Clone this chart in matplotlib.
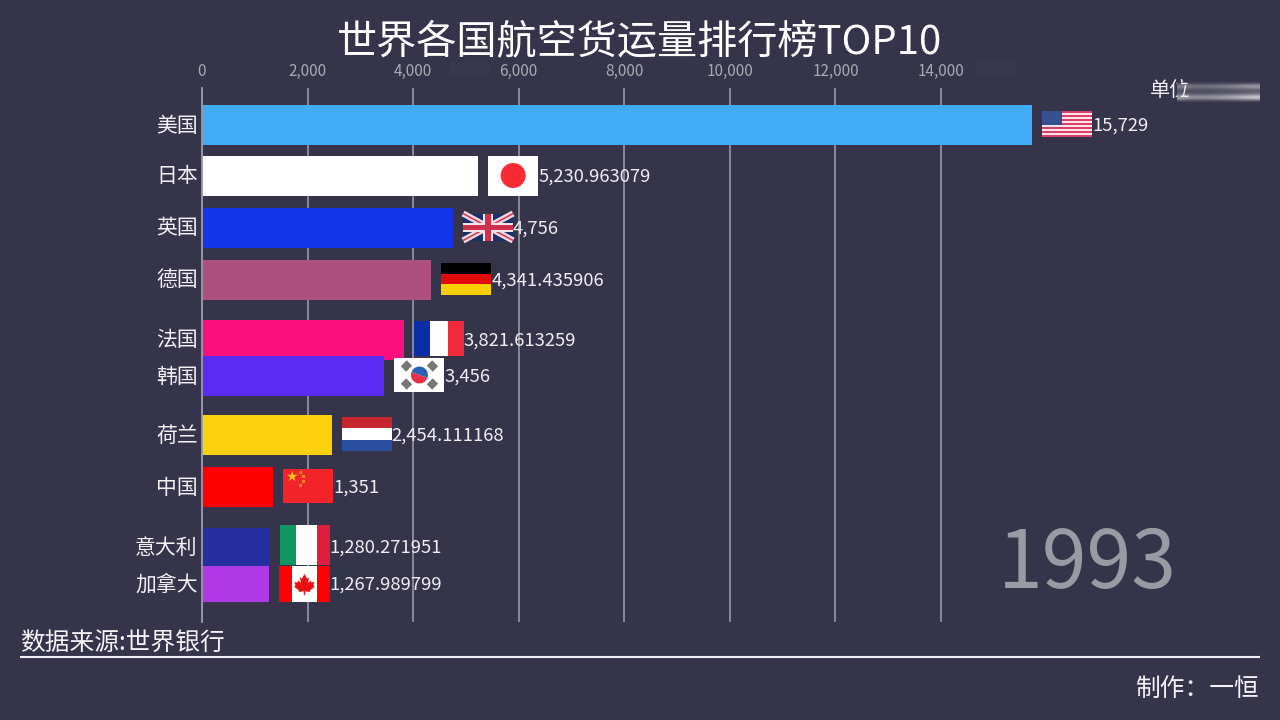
import numpy as np
import matplotlib
matplotlib.use("Agg")
import matplotlib.pyplot as plt
from matplotlib.patches import Rectangle, Circle, Polygon, Wedge
from matplotlib.transforms import ScaledTranslation

plt.rcParams['font.family'] = ['Noto Sans CJK SC', 'DejaVu Sans']

countries = ['美国', '日本', '英国', '德国', '法国', '韩国', '荷兰', '中国', '意大利', '加拿大']
values = [15729, 5230.963079, 4756, 4341.435906, 3821.613259, 3456, 2454.111168, 1351, 1280.271951, 1267.989799]
labels = ['15,729', '5,230.963079', '4,756', '4,341.435906', '3,821.613259', '3,456', '2,454.111168', '1,351', '1,280.271951', '1,267.989799']
colors = ['#41adf8', '#ffffff', '#1535e8', '#ad4f7f', '#fb0f7c', '#5a2cf2', '#fbd00c', '#fd0000', '#252ea0', '#b03ae6']
flag_codes = ['us', 'jp', 'gb', 'de', 'fr', 'kr', 'nl', 'cn', 'it', 'ca']
# animation-frame rows (pixel rows of the frame)
row_centres = [125, 176, 228, 280, 340, 376, 435, 487, 547, 584]
row_heights = [40, 40, 40, 40, 40, 40, 40, 40, 38, 36]
x_ticks = [0, 2000, 4000, 6000, 8000, 10000, 12000, 14000]
title = '世界各国航空货运量排行榜TOP10'
year = '1993'
source = '数据来源:世界银行'
author = '制作：一恒'
unit = '单位'

BG = '#35344a'
W, H = 1280, 720
fig = plt.figure(figsize=(12.8, 7.2), dpi=100, facecolor=BG)

# main axes: x is value scale, y uses frame rows
L, R, T, B = 202, 1260, 88, 622
ax = fig.add_axes([L / W, 1 - B / H, (R - L) / W, (B - T) / H], facecolor='none')
ax.set_xlim(0, (R - L) / 0.05279)
ax.set_ylim(B, T)
for s in ax.spines.values():
    s.set_visible(False)
ax.spines['left'].set_visible(True)
ax.spines['left'].set_color('#9a9aa8')
ax.spines['left'].set_linewidth(1.3)
ax.xaxis.tick_top()
ax.set_xticks(x_ticks)
ax.set_xticklabels([f'{t:,}' for t in x_ticks], color='#a9a9b4', fontsize=11)
ax.tick_params(axis='x', length=0, pad=6)
ax.set_yticks(row_centres)
ax.set_yticklabels(countries, color='#f2f2f4', fontsize=15)
ax.tick_params(axis='y', length=0, pad=3)
lift = ScaledTranslation(0, 2 / 100, fig.dpi_scale_trans)
for lab in ax.get_yticklabels():
    lab.set_transform(lab.get_transform() + lift)
ax.grid(axis='x', color='#8f8fa0', linewidth=1.3, zorder=0)
ax.set_axisbelow(True)

ax.barh(row_centres, values, height=row_heights, color=colors, zorder=2)

# overlay axes in frame pixels for flags, text and rules
ov = fig.add_axes([0, 0, 1, 1], facecolor='none')
ov.set_xlim(0, W)
ov.set_ylim(H, 0)
ov.axis('off')


def rect(x, y, w, h, c, z=4, a=1):
    ov.add_patch(Rectangle((x, y), w, h, facecolor=c, edgecolor='none', zorder=z, alpha=a))


def flag(code, x, yc):
    w = 50
    h = 34
    y = yc - h / 2 - 1
    if code == 'us':
        h = 26
        y = yc - h / 2 - 1
        rect(x, y, w, h, '#fbe3e8')
        for i in range(0, 13, 2):
            rect(x, y + i * h / 13, w, h / 13, '#d8406a')
        rect(x, y, 20, h * 7 / 13, '#35508f')
    elif code == 'jp':
        h = 40
        y = yc - h / 2
        rect(x, y, w, h, '#ffffff')
        ov.add_patch(Circle((x + 25, yc - 0.5), 12.5, facecolor='#f92c33', edgecolor='none', zorder=5))
    elif code == 'gb':
        h = 27
        y = yc - h / 2 - 1
        rect(x, y, w, h, '#1a3068')
        ov.plot([x, x + w], [y, y + h], color='#f4d8e0', lw=4.5, zorder=5, solid_capstyle='butt')
        ov.plot([x, x + w], [y + h, y], color='#f4d8e0', lw=4.5, zorder=5, solid_capstyle='butt')
        ov.plot([x, x + w], [y, y + h], color='#d04060', lw=1.2, zorder=5, solid_capstyle='butt')
        ov.plot([x, x + w], [y + h, y], color='#d04060', lw=1.2, zorder=5, solid_capstyle='butt')
        rect(x + 20, y, 10, h, '#f4e4ea', 6)
        rect(x, y + 9, w, 9, '#f4e4ea', 6)
        rect(x + 22, y, 6, h, '#d03050', 7)
        rect(x, y + 11, w, 5, '#d03050', 7)
    elif code == 'de':
        h = 32
        y = yc - h / 2 - 1
        rect(x, y, w, h / 3, '#000000')
        rect(x, y + h / 3, w, h / 3, '#e30a0a')
        rect(x, y + 2 * h / 3, w, h / 3, '#fccf00')
    elif code == 'fr':
        y = yc - 19
        h = 35
        rect(x, y, 16, h, '#0a2ea8')
        rect(x + 16, y, 18, h, '#ffffff')
        rect(x + 34, y, 16, h, '#f22b3c')
    elif code == 'kr':
        y = yc - 18
        rect(x, y, w, h, '#ffffff')
        cy = y + 17
        ov.add_patch(Wedge((x + 25, cy), 8.5, 200, 380, facecolor='#2a62b8', edgecolor='none', zorder=5))
        ov.add_patch(Wedge((x + 25, cy), 8.5, 20, 200, facecolor='#e8304a', edgecolor='none', zorder=5))
        for dx, dy, sgn in [(-13, -9, 1), (13, -9, -1), (-13, 9, -1), (13, 9, 1)]:
            ov.plot([x + 25 + dx - 3 * sgn, x + 25 + dx + 3 * sgn],
                    [cy + dy + 3, cy + dy - 3], color='#777777', lw=5.5, zorder=5,
                    solid_capstyle='butt')
    elif code == 'nl':
        rect(x, y, w, h / 3, '#c8262e')
        rect(x, y + h / 3, w, h / 3, '#ffffff')
        rect(x, y + 2 * h / 3, w, h / 3, '#2a4f9e')
    elif code == 'cn':
        rect(x, y, w, h, '#f3232a')
        ov.text(x + 8.5, y + 8, '★', color='#fbc21a', fontsize=10, ha='center', va='center',
                family='DejaVu Sans', zorder=5)
        for dx, dy in [(16, 2), (19, 6), (19, 11), (16, 15)]:
            rect(x + dx, y + dy, 2.5, 2.5, '#f58a1a', 5)
    elif code == 'it':
        y = yc - 22
        h = 40
        rect(x, y, 16, h, '#0f9464')
        rect(x + 16, y, 21, h, '#ffffff')
        rect(x + 37, y, 13, h, '#dd1e3c')
    elif code == 'ca':
        h = 36
        y = yc - h / 2
        rect(x, y, 13, h, '#ff0000')
        rect(x + 13, y, 25, h, '#ffffff')
        rect(x + 38, y, 13, h, '#ff0000')
        cx = x + 25.5
        leaf = [(0, -10), (2.5, -5.5), (4.5, -6.5), (3.5, -1), (6, -3.5), (7, -1.5), (10, -2),
                (9, 1.5), (10.5, 2.5), (5.5, 6.5), (6, 8), (0.7, 7.3), (0.7, 11), (-0.7, 11),
                (-0.7, 7.3), (-6, 8), (-5.5, 6.5), (-10.5, 2.5), (-9, 1.5), (-10, -2), (-7, -1.5),
                (-6, -3.5), (-3.5, -1), (-4.5, -6.5), (-2.5, -5.5)]
        ov.add_patch(Polygon([(cx + a, yc + b) for a, b in leaf], closed=True,
                             facecolor='#e81010', edgecolor='none', zorder=5))


for v, yc, lab, code in zip(values, row_centres, labels, flag_codes):
    bar_end = ax.transData.transform((v, yc))[0]
    fx = bar_end + 10
    flag(code, fx, yc)
    ov.text(fx + 50, yc + 0.5, lab, color='#eeeef2', fontsize=13.3, ha='left', va='center', zorder=8)

ov.text(640, 42, title, color='#ffffff', fontsize=28.9, ha='center', va='center')
ov.text(1087, 565, year, color='#9a9aa4', fontsize=58, ha='center', va='center',
        family='Noto Sans CJK SC')

# blurred watermark over the unit label and faint compression ghosts
ov.text(1150, 91, unit, color='#f2f2f4', fontsize=14.5, ha='left', va='center', zorder=3)
rect(1177, 80, 4, 24, BG, 3.5)
rows = np.array([0.0, 0.35, 0.65, 0.35, 0.22, 0.28, 0.6, 0.95, 0.45, 0.0])
cols = np.array([0.75, 0.6, 0.6, 0.65, 0.7, 0.8, 0.9, 1.0])
alpha = np.outer(rows, cols)
rgba = np.dstack([np.full(alpha.shape + (3,), 0.92), alpha])
ov.imshow(rgba, extent=[1177, 1260, 103, 81], aspect='auto', interpolation='bicubic', zorder=4)
ov.set_xlim(0, W)
ov.set_ylim(H, 0)
rect(450, 62, 40, 12, '#ffffff', 1, 0.02)
rect(975, 62, 42, 12, '#ffffff', 1, 0.02)

ov.text(20, 644, source, color='#f4f4f6', fontsize=17.8, ha='left', va='center')
ov.plot([20, 1260], [657, 657], color='#f0f0f4', lw=1.5, solid_capstyle='butt')
ov.text(1260, 689, author, color='#f4f4f6', fontsize=17.8, ha='right', va='center')

fig.savefig('out.png', dpi=100, facecolor=BG)
